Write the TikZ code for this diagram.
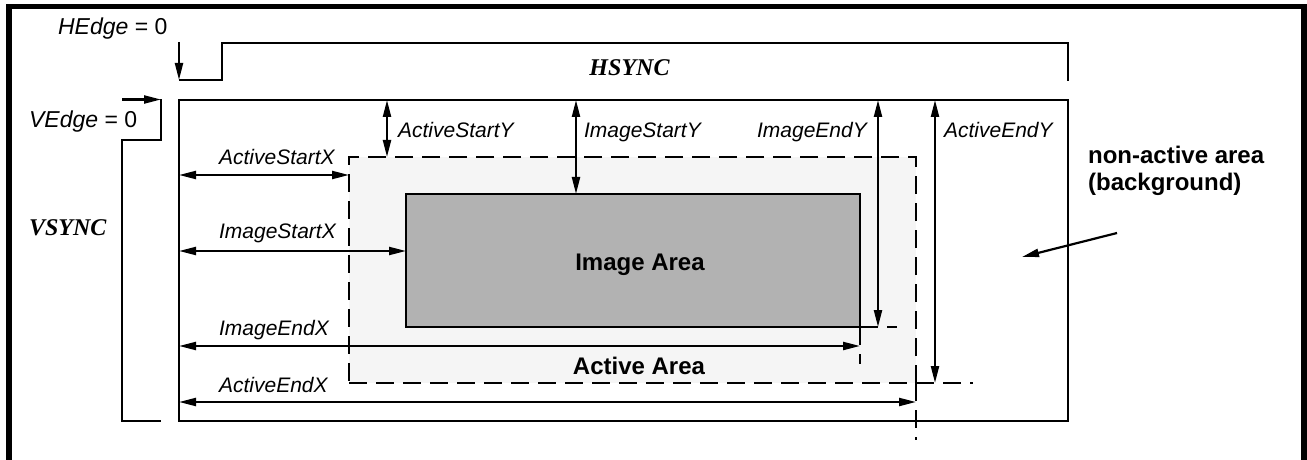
\documentclass[tikz,border=0pt]{standalone}
\usepackage{xcolor}
\usepackage{fontspec}
\setmainfont{Liberation Sans}
\newfontfamily\syncfont{Liberation Serif}
\usepackage{tikz}
\usetikzlibrary{positioning, arrows.meta}

\definecolor{activegray}{gray}{0.96}
\definecolor{imagegray}{gray}{0.70}

\begin{document}
\begin{tikzpicture}[
    x=0.5pt, y=-0.5pt, line width=1.1pt,
    area/.style={draw, outer sep=0pt, inner sep=0pt, anchor=north west},
    dim/.style={{Triangle[length=8.5pt,width=4pt]}-{Triangle[length=8.5pt,width=4pt]}},
    tip/.style={-{Triangle[length=8.5pt,width=4pt]}},
    guide/.style={dash pattern=on 9pt off 4.5pt},
    lbl/.style={font=\fontsize{10.5}{12}\selectfont\itshape, inner sep=0pt, anchor=base west},
    edgelbl/.style={font=\fontsize{11.5}{13}\selectfont, inner sep=0pt, anchor=base west},
    sync/.style={font=\fontsize{12}{14}\selectfont\syncfont\bfseries\itshape, inner sep=0pt},
    title/.style={font=\fontsize{12}{13.5}\selectfont\bfseries, inner sep=0pt}
]
\useasboundingbox (0,0) rectangle (1307,460);

% outer frame
\draw[line width=2.75pt] (9,460) -- (9,6.5) -- (1304,6.5) -- (1304,460);

% sync waveforms
\draw[tip] (179,42) -- (179,80);
\draw (179,80) -- (222,80) -- (222,43) -- (1068,43) -- (1068,81);
\draw[tip] (122,99.5) -- (161,99.5);
\draw (161,99.5) -- (161,140) -- (122,140) -- (122,421) -- (161,421);
\node[edgelbl] (hedge) at (57,35) {\itshape HEdge\/ \upshape= 0};
\node[edgelbl] (vedge) at (28,127.5) {\itshape VEdge\/ \upshape= 0};
\node[sync, anchor=base] (hsync) at (629.5,76) {HSYNC};
\node[sync, anchor=base west] (vsync) at (28,235) {VSYNC};

% areas
\node[area, minimum width=444.5pt, minimum height=160.5pt] (bg) at (179,100) {};
\node[area, dash pattern=on 9pt off 4.5pt, fill=activegray,
      minimum width=283.5pt, minimum height=113pt] (act) at (349,157) {};
\node[area, fill=imagegray, minimum width=227pt, minimum height=66.5pt] (img) at (406,194) {};
\node[title, anchor=base] (imgtext) at (640,270) {Image Area};
\node[title, anchor=base] (acttext) at (639,374) {Active Area};

% extension lines
\draw[guide] (img.south east) -- +(37,0);
\draw[guide] (img.south east) -- +(0,37);
\draw[guide] (act.south east) -- +(57,0);
\draw[guide] (act.south east) -- +(0,57);

% vertical offsets
\draw[dim] (387,0 |- bg.north) -- (387,0 |- act.north);
\draw[dim] (576,0 |- bg.north) -- (576,0 |- img.north);
\draw[dim] (878,0 |- bg.north) -- (878,0 |- img.south);
\draw[dim] (935,0 |- bg.north) -- (935,0 |- act.south);
\node[lbl] (asy) at (397,137.5) {ActiveStartY};
\node[lbl] (isy) at (583,137.5) {ImageStartY};
\node[lbl] (iey) at (756,137.5) {ImageEndY};
\node[lbl] (aey) at (943,138) {ActiveEndY};

% horizontal offsets
\draw[dim] (bg.west |- 0,175) -- (act.west |- 0,175);
\draw[dim] (bg.west |- 0,251) -- (img.west |- 0,251);
\draw[dim] (bg.west |- 0,346) -- (img.east |- 0,346);
\draw[dim] (bg.west |- 0,402) -- (act.east |- 0,402);
\node[lbl] (asx) at (218,164) {ActiveStartX};
\node[lbl] (isx) at (218,238) {ImageStartX};
\node[lbl] (iex) at (218,335) {ImageEndX};
\node[lbl] (aex) at (218,392.5) {ActiveEndX};

% background note
\node[title, anchor=base west, align=left] (note) at (1087,191) {non-active area\\(background)};
\coordinate (notefoot) at (1117,233);
\coordinate (notetip) at (1022,257);
\draw[tip] (notefoot) -- (notetip);
\end{tikzpicture}
\end{document}
